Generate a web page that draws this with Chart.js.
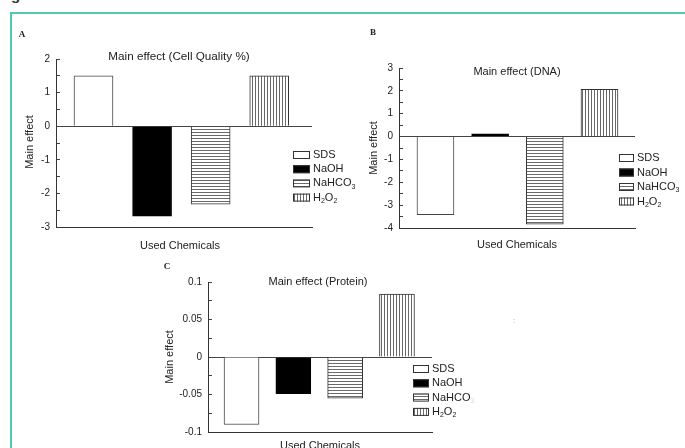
<!DOCTYPE html>
<html>
<head>
<meta charset="utf-8">
<script src="https://cdn.jsdelivr.net/npm/chart.js@4.4.1/dist/chart.umd.min.js"></script>
<style>
  html, body { margin: 0; padding: 0; background: #fff; width: 685px; height: 448px; overflow: hidden; }
  .frame { position: absolute; left: 10px; top: 12px; width: 720px; height: 480px;
           border-top: 2px solid #52c7b1; border-left: 2px solid #52c7b1; }
  .cut { position: absolute; left: 11px; top: -14px; font: bold 15px "Liberation Sans"; color: #333; }
  canvas { position: absolute; left: 0; top: 0; }
</style>
</head>
<body>
<div class="cut">g</div>
<div class="frame"></div>
<canvas id="chartA" width="685" height="448"></canvas>
<canvas id="chartB" width="685" height="448"></canvas>
<canvas id="chartC" width="685" height="448"></canvas>
<script>
// --- data ---
const chemicals = ['SDS', 'NaOH', 'NaHCO3', 'H2O2'];
const cellQuality = [1.5, -2.68, -2.32, 1.5];
const dna = [-3.42, 0.12, -3.83, 2.07];
const protein = [-0.09, -0.049, -0.055, 0.084];

const cellTicks = [2, 1, 0, -1, -2, -3];
const dnaTicks = [3, 2, 1, 0, -1, -2, -3, -4];
const proteinTicks = [0.1, 0.05, 0, -0.05, -0.1];

// --- fills ---
function stripes(horizontal) {
  const c = document.createElement('canvas');
  c.width = 3; c.height = 3;
  const g = c.getContext('2d');
  g.fillStyle = '#fff';
  g.fillRect(0, 0, 3, 3);
  g.fillStyle = '#6a6a6a';
  if (horizontal) g.fillRect(0, 0, 3, 1); else g.fillRect(0, 0, 1, 3);
  return g.createPattern(c, 'repeat');
}
const barFills = ['#ffffff', '#000000', stripes(true), stripes(false)];
const barEdges = ['#444444', '#000000', '#333333', '#333333'];

const FONT = '"Liberation Sans", Arial, sans-serif';

// digits in a formula are drawn as subscripts
function drawChem(ctx, name, x, y, size, faintSub) {
  for (const ch of name) {
    if (/[0-9]/.test(ch)) {
      ctx.font = Math.round(size * 0.68) + 'px ' + FONT;
      ctx.fillStyle = faintSub ? '#d8d8d8' : '#222';
      ctx.fillText(ch, x, y + size * 0.32);
    } else {
      ctx.font = size + 'px ' + FONT;
      ctx.fillStyle = '#222';
      ctx.fillText(ch, x, y);
    }
    x += ctx.measureText(ch).width;
  }
}

const panelText = {
  id: 'panelText',
  afterDraw(chart, args, o) {
    const ctx = chart.ctx;
    ctx.save();
    ctx.fillStyle = '#222';
    ctx.textAlign = 'center';
    ctx.textBaseline = 'middle';

    ctx.font = 'bold 9px "Liberation Serif", serif';
    ctx.fillText(o.letter[0], o.letter[1], o.letter[2]);

    ctx.font = o.titleSize + 'px ' + FONT;
    ctx.fillText(o.title[0], o.title[1], o.title[2]);

    ctx.font = '11px ' + FONT;
    ctx.fillText('Used Chemicals', o.xTitle[0], o.xTitle[1]);

    ctx.save();
    ctx.translate(o.yTitle[0], o.yTitle[1]);
    ctx.rotate(-Math.PI / 2);
    ctx.fillText('Main effect', 0, 0);
    ctx.restore();

    // legend
    const lg = o.legend;
    ctx.textAlign = 'left';
    chemicals.forEach((name, i) => {
      const y = lg.y + i * lg.gap;
      ctx.fillStyle = barFills[i];
      ctx.fillRect(lg.x, y - 4, lg.w, 8);
      ctx.strokeStyle = '#333';
      ctx.lineWidth = 1;
      ctx.strokeRect(lg.x + 0.5, y - 3.5, lg.w - 1, 7);
      drawChem(ctx, name, lg.x + lg.w + 3, y, 11, o.faintSub && i === 2);
    });

    (o.extras || []).forEach(e => {
      ctx.fillStyle = '#999';
      ctx.font = '8px ' + FONT;
      ctx.fillText(e[0], e[1], e[2]);
    });
    ctx.restore();
  }
};

function makePanel(id, values, majors, cfg) {
  const a = cfg.area;
  const isMajor = v => majors.some(m => Math.abs(m - v) < cfg.minor / 10);
  new Chart(document.getElementById(id), {
    type: 'bar',
    data: {
      datasets: [{
        data: values.map((v, i) => ({ x: i, y: v })),
        backgroundColor: barFills,
        borderColor: barEdges,
        borderWidth: 1,
        barThickness: cfg.barWidth
      }]
    },
    options: {
      responsive: false,
      animation: false,
      devicePixelRatio: 1,
      layout: { padding: { left: a.left - 40, top: a.top, right: 685 - a.right, bottom: 448 - a.bottom } },
      plugins: {
        legend: { display: false },
        tooltip: { enabled: false },
        panelText: cfg.text
      },
      scales: {
        x: {
          type: 'linear',
          min: cfg.xMin,
          max: cfg.xMax,
          offset: false,
          bounds: 'data',
          ticks: { display: false },
          grid: { display: false, offset: false },
          border: { display: true, color: '#333', width: 1 },
          afterFit: s => { s.height = 0; }
        },
        y: {
          min: majors[majors.length - 1],
          max: majors[0],
          afterFit: s => { s.width = 40; },
          afterBuildTicks: s => {
            const ticks = [];
            const n = Math.round((s.max - s.min) / cfg.minor);
            for (let k = 0; k <= n; k++) ticks.push({ value: s.min + k * cfg.minor });
            s.ticks = ticks;
          },
          ticks: {
            autoSkip: false,
            padding: 10,
            color: '#222',
            font: { family: 'Liberation Sans', size: 10 },
            callback: v => isMajor(v) ? String(Math.round(v * 1000) / 1000) : ''
          },
          grid: {
            drawTicks: true,
            tickLength: -4,
            tickColor: '#444',
            color: c => (c.tick && Math.abs(c.tick.value) < 1e-9) ? '#444' : 'rgba(0,0,0,0)'
          },
          border: { display: true, color: '#333', width: 1 }
        }
      }
    },
    plugins: [panelText]
  });
}

makePanel('chartA', cellQuality, cellTicks, {
  area: { left: 56, top: 59, right: 312, bottom: 227 },
  xMin: -0.64, xMax: 3.73, barWidth: 39, minor: 0.5,
  text: {
    letter: ['A', 22, 35],
    title: ['Main effect (Cell Quality %)', 179, 57], titleSize: 11.7,
    xTitle: [180, 246], yTitle: [30, 142],
    legend: { x: 293, y: 155, gap: 14.2, w: 17 }
  }
});

makePanel('chartB', dna, dnaTicks, {
  area: { left: 399, top: 68, right: 635, bottom: 228 },
  xMin: -0.667, xMax: 3.65, barWidth: 37, minor: 0.5,
  text: {
    letter: ['B', 373, 33],
    title: ['Main effect (DNA)', 517, 72], titleSize: 11,
    xTitle: [517, 245], yTitle: [374, 148],
    legend: { x: 619, y: 158, gap: 14.5, w: 15 }
  }
});

makePanel('chartC', protein, proteinTicks, {
  area: { left: 208, top: 282, right: 432, bottom: 432 },
  xMin: -0.647, xMax: 3.676, barWidth: 35, minor: 0.025,
  text: {
    letter: ['C', 167, 267],
    title: ['Main effect (Protein)', 318, 282], titleSize: 11,
    xTitle: [320, 446], yTitle: [170, 357],
    legend: { x: 413, y: 369, gap: 14.3, w: 16 },
    faintSub: true,
    extras: [[':', 513, 321]]
  }
});
</script>
</body>
</html>
